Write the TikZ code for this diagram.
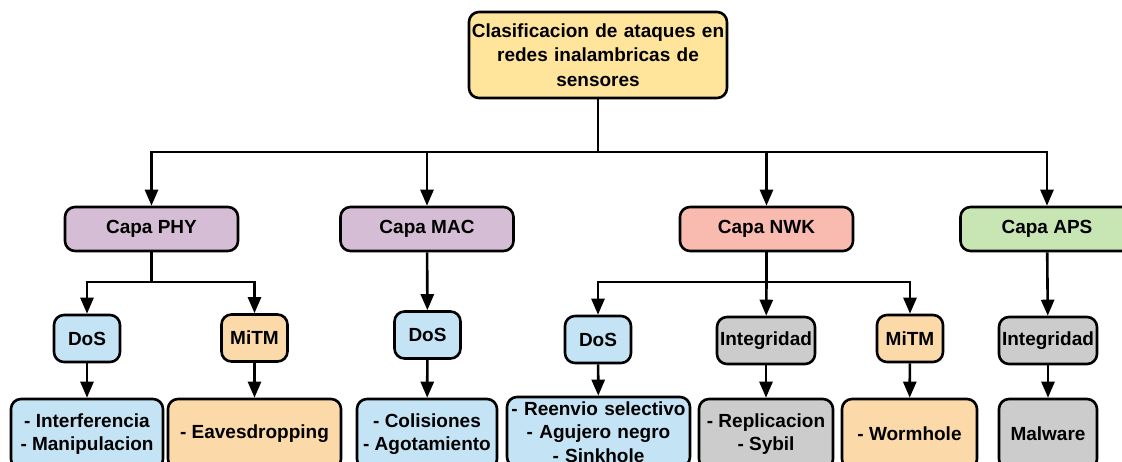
\documentclass[tikz,border=0pt]{standalone}
\usepackage{fontspec}
\setmainfont{Liberation Sans}
\usetikzlibrary{arrows.meta}
\definecolor{cYellow}{HTML}{FFE59C}
\definecolor{cPurple}{HTML}{D5BED5}
\definecolor{cPink}{HTML}{F9BAB0}
\definecolor{cGreen}{HTML}{C8E6B3}
\definecolor{cBlue}{HTML}{C4E3F4}
\definecolor{cOrange}{HTML}{FCD9A8}
\definecolor{cGray}{HTML}{CCCCCC}
\tikzset{
  box/.style={draw=black, line width=2.6pt, rounded corners=10pt, align=center,
    inner sep=0pt, font=\bfseries\fontsize{19}{24}\selectfont, text=black},
  layer/.style={box, minimum width=173pt, minimum height=44pt},
  small/.style={box, minimum width=66pt, minimum height=47pt},
  wide/.style={box, minimum width=98pt, minimum height=47pt},
  leaf/.style={box, minimum height=70pt, font=\bfseries\fontsize{19}{23.5}\selectfont},
  arr/.style={line width=2.6pt, -{Triangle[width=13pt,length=16pt]}},
  ln/.style={line width=2.6pt}
}
\begin{document}
\begin{tikzpicture}[x=1pt,y=-1pt]
\clip (0,0) rectangle (1122,461);
\fill[white] (0,0) rectangle (1122,461);

% root
\node[box, fill=cYellow, minimum width=258pt, minimum height=86pt, text width=258pt,
  font=\bfseries\fontsize{19}{24.5}\selectfont] (root) at (598,55)
  {Clasificacion de ataques en\\redes inalambricas de\\sensores};

% layers
\node[layer, fill=cPurple] (phy) at (151.5,229) {Capa PHY};
\node[layer, fill=cPurple] (mac) at (427,229) {Capa MAC};
\node[layer, fill=cPink]   (nwk) at (766.5,229) {Capa NWK};
\node[layer, fill=cGreen]  (aps) at (1047,229) {Capa APS};

% attack classes
\node[small, fill=cBlue]   (dosA)  at (87,338.5)   {DoS};
\node[small, fill=cOrange] (mitmA) at (254.5,338)  {MiTM};
\node[small, fill=cBlue]   (dosB)  at (427.5,335)  {DoS};
\node[small, fill=cBlue]   (dosC)  at (598,339.5)  {DoS};
\node[wide, fill=cGray]    (intA)  at (766,340.5)  {Integridad};
\node[small, fill=cOrange] (mitmB) at (910,338.5)  {MiTM};
\node[wide, fill=cGray]    (intB)  at (1048,340.5) {Integridad};

% attacks
\node[leaf, fill=cBlue, minimum width=152pt]   (lfA) at (87,434)    {- Interferencia\\- Manipulacion};
\node[leaf, fill=cOrange, minimum width=173pt] (lfB) at (254.5,434) {- Eavesdropping};
\node[leaf, fill=cBlue, minimum width=140pt]   (lfC) at (427,434)   {- Colisiones\\- Agotamiento};
\node[leaf, fill=cBlue, minimum width=183pt, text width=183pt] (lfD) at (598.5,432)
  {- Reenvio selectivo\\- Agujero negro\\- Sinkhole};
\node[leaf, fill=cGray, minimum width=134pt]   (lfE) at (766,434)   {- Replicacion\\- Sybil};
\node[leaf, fill=cOrange, minimum width=135pt] (lfF) at (909.5,434) {- Wormhole};
\node[leaf, fill=cGray, minimum width=98pt]    (lfG) at (1048,434)  {Malware};

% junctions
\coordinate (j0) at (598,152);
\coordinate (j1) at (151.5,282);
\coordinate (j3) at (766.5,282);

% root to layers
\draw[ln] (root.south) -- (j0);
\draw[arr] (j0) -| (phy);
\draw[arr] (j0) -| (mac);
\draw[arr] (j0) -| (nwk);
\draw[arr] (j0) -| (aps);

% PHY
\draw[ln] (phy.south) -- (j1);
\draw[arr] (j1) -| (dosA);
\draw[arr] (j1) -| (mitmA);
% MAC
\draw[arr] (mac) -- (dosB);
% NWK
\draw[ln] (nwk.south) -- (j3);
\draw[arr] (j3) -| (dosC);
\draw[arr] (j3) -- (intA);
\draw[arr] (j3) -| (mitmB);
% APS
\draw[arr] (aps) -- (intB);

% classes to attacks
\draw[arr] (dosA) -- (lfA);
\draw[arr] (mitmA) -- (lfB);
\draw[arr] (dosB) -- (lfC);
\draw[arr] (dosC) -- (lfD);
\draw[arr] (intA) -- (lfE);
\draw[arr] (mitmB) -- (lfF);
\draw[arr] (intB) -- (lfG);
\end{tikzpicture}
\end{document}
